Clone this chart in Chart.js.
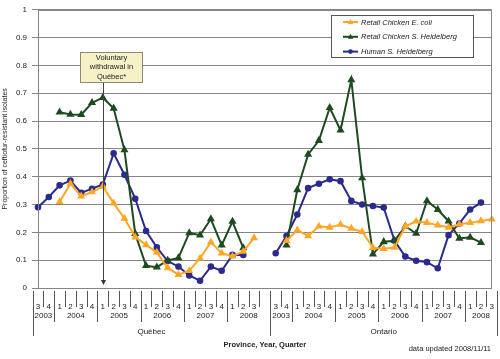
<!DOCTYPE html>
<html>
<head>
<meta charset="utf-8">
<script src="https://cdn.jsdelivr.net/npm/chart.js@4.4.1/dist/chart.umd.min.js"></script>
<style>
  html, body { margin: 0; padding: 0; background: #fff; }
  #wrap { width: 500px; height: 359px; }
</style>
</head>
<body>
<div id="wrap"><canvas id="myChart" width="500" height="359"></canvas></div>
<script>
// category axis : province / year / quarter  (index 21 = empty gap between provinces)
const provinces = [
  "Québec","Québec","Québec","Québec","Québec","Québec","Québec","Québec","Québec","Québec","Québec",
  "Québec","Québec","Québec","Québec","Québec","Québec","Québec","Québec","Québec","Québec","Québec",
  "Ontario","Ontario","Ontario","Ontario","Ontario","Ontario","Ontario","Ontario","Ontario","Ontario","Ontario",
  "Ontario","Ontario","Ontario","Ontario","Ontario","Ontario","Ontario","Ontario","Ontario","Ontario"
];
const years = [
  "2003","2003","2004","2004","2004","2004","2005","2005","2005","2005","2006",
  "2006","2006","2006","2007","2007","2007","2007","2008","2008","2008","2008",
  "2003","2003","2004","2004","2004","2004","2005","2005","2005","2005","2006",
  "2006","2006","2006","2007","2007","2007","2007","2008","2008","2008"
];
const quarters = [
  "3","4","1","2","3","4","1","2","3","4","1",
  "2","3","4","1","2","3","4","1","2","3","",
  "3","4","1","2","3","4","1","2","3","4","1",
  "2","3","4","1","2","3","4","1","2","3"
];

// series (proportion of ceftiofur-resistant isolates)
const ecoliChicken = [
  null, null, 0.31, 0.375, 0.33, 0.345, 0.365, 0.305, 0.25, 0.183, 0.155,
  0.128, 0.072, 0.048, 0.062, 0.107, 0.165, 0.125, 0.114, 0.131, 0.18, null,
  null, 0.17, 0.208, 0.187, 0.222, 0.218, 0.228, 0.214, 0.202, 0.145, 0.141,
  0.146, 0.222, 0.24, 0.235, 0.226, 0.218, 0.229, 0.235, 0.241, 0.247
];
const heidelbergChicken = [
  null, null, 0.632, 0.624, 0.623, 0.666, 0.684, 0.646, 0.496, 0.195, 0.08,
  0.075, 0.099, 0.108, 0.198, 0.19, 0.248, 0.154, 0.239, 0.144, null, null,
  null, 0.154, 0.353, 0.48, 0.53, 0.648, 0.567, 0.748, 0.396, 0.122, 0.166,
  0.17, 0.222, 0.196, 0.313, 0.282, 0.24, 0.178, 0.182, 0.163, null
];
const heidelbergHuman = [
  0.29, 0.327, 0.369, 0.386, 0.342, 0.357, 0.372, 0.484, 0.407, 0.321, 0.205,
  0.146, 0.097, 0.077, 0.045, 0.026, 0.077, 0.062, 0.119, 0.119, null, null,
  0.125, 0.187, 0.264, 0.359, 0.375, 0.391, 0.384, 0.313, 0.30, 0.295, 0.289,
  0.17, 0.113, 0.098, 0.093, 0.071, 0.19, 0.232, 0.282, 0.307, null
];

const seriesNames = ["Retail Chicken E. coli", "Retail Chicken S. Heidelberg", "Human S. Heidelberg"];
const withdrawalIndex = 6; // Québec 2005 Q1
const font = "'Liberation Sans', Arial, sans-serif";

// everything the axis can't do by itself : group labels, separators, legend box, callout
const extras = {
  id: "extras",
  afterDraw(chart) {
    const ctx = chart.ctx;
    const x = chart.scales.x;
    const a = chart.chartArea;
    const n = quarters.length;
    const half = (x.getPixelForValue(1) - x.getPixelForValue(0)) / 2;
    const edge = (i) => (i < n ? x.getPixelForValue(i) - half : x.getPixelForValue(n - 1) + half);

    ctx.save();
    // plot frame
    ctx.strokeStyle = "#858585";
    ctx.lineWidth = 1;
    ctx.strokeRect(Math.round(a.left) + 0.5, Math.round(a.top) + 0.5, Math.round(a.right - a.left) - 1, Math.round(a.bottom - a.top));

    // separators under the axis
    ctx.strokeStyle = "#555";
    for (let i = 0; i <= n; i++) {
      let len = 19;
      if (i === 0 || i === n || provinces[i] !== provinces[i - 1]) len = 48;
      else if (quarters[i] === "" || quarters[i - 1] === "") len = 19;
      else if (years[i] !== years[i - 1]) len = 34;
      const px = Math.round(edge(i)) + 0.5;
      ctx.beginPath();
      ctx.moveTo(px, a.bottom + 3);
      ctx.lineTo(px, a.bottom + len);
      ctx.stroke();
    }

    // year and province labels
    ctx.fillStyle = "#222";
    ctx.font = "8px " + font;
    ctx.textAlign = "center";
    ctx.textBaseline = "middle";
    let start = 0;
    for (let i = 1; i <= n; i++) {
      if (i === n || years[i] !== years[start] || provinces[i] !== provinces[start]) {
        ctx.fillText(years[start], (edge(start) + edge(i)) / 2, a.bottom + 28);
        start = i;
      }
    }
    start = 0;
    for (let i = 1; i <= n; i++) {
      if (i === n || provinces[i] !== provinces[start]) {
        ctx.fillText(provinces[start], (edge(start) + edge(i)) / 2, a.bottom + 44);
        start = i;
      }
    }

    // data updated note
    ctx.font = "7.5px " + font;
    ctx.textAlign = "right";
    ctx.fillText("data updated 2008/11/11", 491, 349);

    // callout + arrow
    const ax = Math.round(x.getPixelForValue(withdrawalIndex)) + 0.5;
    ctx.strokeStyle = "#444";
    ctx.beginPath();
    ctx.moveTo(ax, 83);
    ctx.lineTo(ax, a.bottom - 6);
    ctx.stroke();
    ctx.fillStyle = "#333";
    ctx.beginPath();
    ctx.moveTo(ax - 2.5, a.bottom - 8);
    ctx.lineTo(ax + 2.5, a.bottom - 8);
    ctx.lineTo(ax, a.bottom - 3);
    ctx.closePath();
    ctx.fill();

    ctx.fillStyle = "#f6f1c6";
    ctx.strokeStyle = "#8a8a70";
    ctx.fillRect(80, 52, 63, 31);
    ctx.strokeRect(80.5, 52.5, 62, 30);
    ctx.fillStyle = "#222";
    ctx.font = "7.5px " + font;
    ctx.textAlign = "center";
    ctx.fillText("Voluntary", 111.5, 57.5);
    ctx.fillText("withdrawal in", 111.5, 67);
    ctx.fillText("Québec*", 111.5, 76.5);

    // legend box
    ctx.fillStyle = "#fff";
    ctx.fillRect(331, 15, 143, 43);
    ctx.strokeStyle = "#555";
    ctx.strokeRect(331.5, 15.5, 142, 42);
    ctx.font = "italic 7.5px " + font;
    ctx.textAlign = "left";
    chart.data.datasets.forEach((ds, k) => {
      const ly = 22 + k * 14.8;
      ctx.strokeStyle = ds.borderColor;
      ctx.lineWidth = 2;
      ctx.beginPath();
      ctx.moveTo(343, ly);
      ctx.lineTo(358, ly);
      ctx.stroke();
      ctx.fillStyle = ds.borderColor;
      ctx.beginPath();
      if (ds.pointStyle === "triangle") {
        ctx.moveTo(350.5, ly - 3);
        ctx.lineTo(353.3, ly + 2);
        ctx.lineTo(347.7, ly + 2);
        ctx.closePath();
      } else {
        ctx.arc(350.5, ly, 2.3, 0, Math.PI * 2);
      }
      ctx.fill();
      ctx.fillStyle = "#222";
      ctx.fillText(ds.label, 361, ly + 0.5);
    });
    ctx.restore();
  }
};

const ctx = document.getElementById("myChart").getContext("2d");
const myChart = new Chart(ctx, {
  type: "line",
  data: {
    labels: quarters,
    datasets: [
      {
        label: seriesNames[0],
        data: ecoliChicken,
        borderColor: "#ffa626",
        backgroundColor: "#ffa626",
        pointStyle: "triangle",
        pointRadius: 2.6,
        borderWidth: 2,
      },
      {
        label: seriesNames[1],
        data: heidelbergChicken,
        borderColor: "#1e4a22",
        backgroundColor: "#1e4a22",
        pointStyle: "triangle",
        pointRadius: 2.7,
        borderWidth: 2,
      },
      {
        label: seriesNames[2],
        data: heidelbergHuman,
        borderColor: "#2b2a8e",
        backgroundColor: "#2b2a8e",
        pointStyle: "circle",
        pointRadius: 2.3,
        borderWidth: 2,
      },
    ],
  },
  options: {
    responsive: false,
    animation: false,
    spanGaps: false,
    layout: { padding: { top: 8, right: 8, left: 0, bottom: 0 } },
    plugins: {
      legend: { display: false },
      tooltip: { enabled: false },
    },
    scales: {
      x: {
        afterFit(scale) { scale.height = 71; },
        grid: { display: false },
        border: { display: true, color: "#858585" },
        ticks: {
          autoSkip: false,
          maxRotation: 0,
          padding: 6,
          color: "#222",
          font: { family: font, size: 8 },
        },
        title: {
          display: true,
          text: "Province, Year, Quarter",
          color: "#222",
          font: { family: font, size: 7.5, weight: "bold" },
          padding: { top: 0, bottom: 10 },
        },
      },
      y: {
        min: 0,
        max: 1,
        afterFit(scale) { scale.width = 38; },
        grid: { color: "#858585", tickLength: 6 },
        border: { display: true, color: "#858585" },
        ticks: {
          stepSize: 0.1,
          padding: 5,
          color: "#222",
          font: { family: font, size: 8 },
          callback: (v) => String(Math.round(v * 10) / 10),
        },
        title: {
          display: true,
          text: "Proportion of ceftiofur-resistant isolates",
          color: "#222",
          font: { family: font, size: 7 },
          padding: { top: 1, bottom: 0 },
        },
      },
    },
  },
  plugins: [extras],
});
</script>
</body>
</html>
